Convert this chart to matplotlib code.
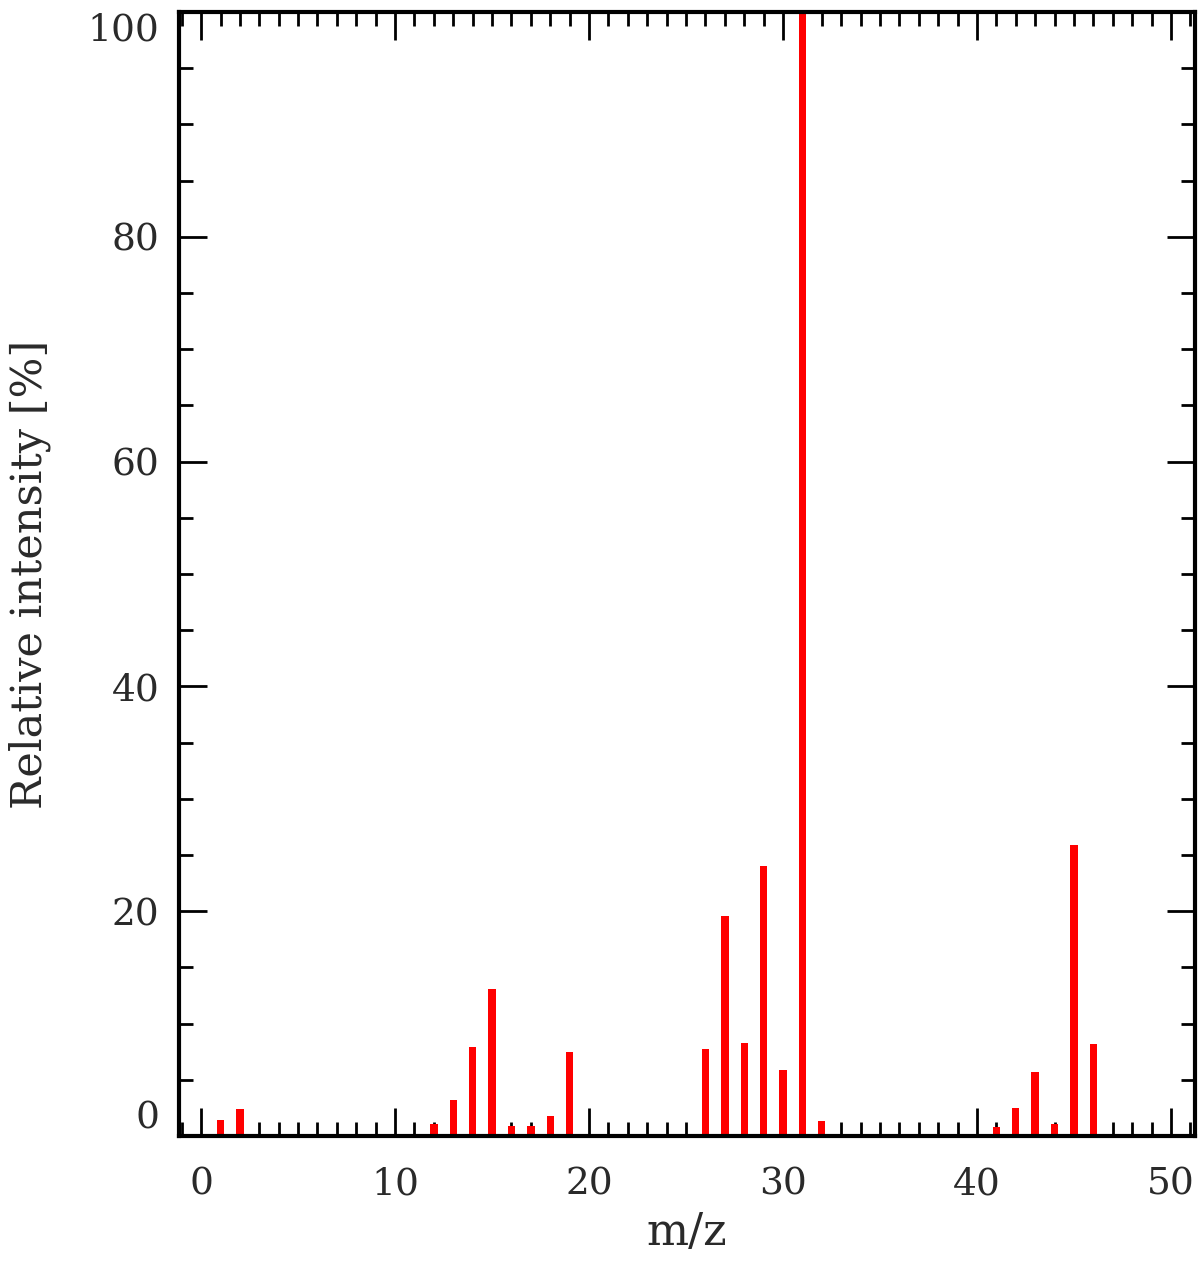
import numpy as np
import matplotlib.pyplot as plt
from matplotlib.ticker import MultipleLocator

# espectro de masas, intensidad relativa
mz = [1, 2, 12, 13, 14, 15, 16, 17, 18, 19, 26, 27, 28, 29, 30, 31, 32, 33,
      41, 42, 43, 44, 45, 46]
intensidad = [1.4, 2.4, 1.1, 3.2, 7.9, 13.1, 0.9, 0.9, 1.8, 7.5, 7.7, 19.6,
              8.3, 24.0, 5.9, 100.0, 1.3, 0.2, 0.8, 2.5, 5.7, 1.1, 25.9, 8.2]

x_ticks = [0, 10, 20, 30, 40, 50]
y_ticks = [0, 20, 40, 60, 80, 100]

plt.rcParams['font.family'] = ['DejaVu Serif']

fig = plt.figure(figsize=(12, 12.69), dpi=100)
ax = fig.add_axes([0.149, 0.1048, 0.847, 0.8857])

ax.bar(mz, intensidad, width=0.38, color='red', zorder=2)

ax.set_xlim(-1.15, 51.25)
ax.set_ylim(0, 100)
ax.set_xticks(x_ticks)
ax.set_yticks(y_ticks)
ax.xaxis.set_minor_locator(MultipleLocator(1))
ax.yaxis.set_minor_locator(MultipleLocator(5))

ax.tick_params(which='both', direction='in', top=True, right=True,
               width=2, labelsize=27, colors='black', labelcolor='#2a2a2a')
ax.tick_params(which='major', length=20)
ax.tick_params(which='minor', length=10)
ax.tick_params(axis='x', pad=22)
ax.tick_params(axis='y', pad=14)

# las etiquetas de los extremos quedan dentro del eje, como en el original
ylabs = ax.get_yticklabels()
ylabs[0].set_va('bottom')
ylabs[-1].set_va('top')

for s in ax.spines.values():
    s.set_linewidth(3)

ax.set_xlabel('m/z', fontsize=32, color='#2a2a2a', labelpad=6)
ax.set_ylabel('Relative intensity [%]', fontsize=31, color='#2a2a2a', labelpad=26)

plt.savefig('out.png', dpi=100)
